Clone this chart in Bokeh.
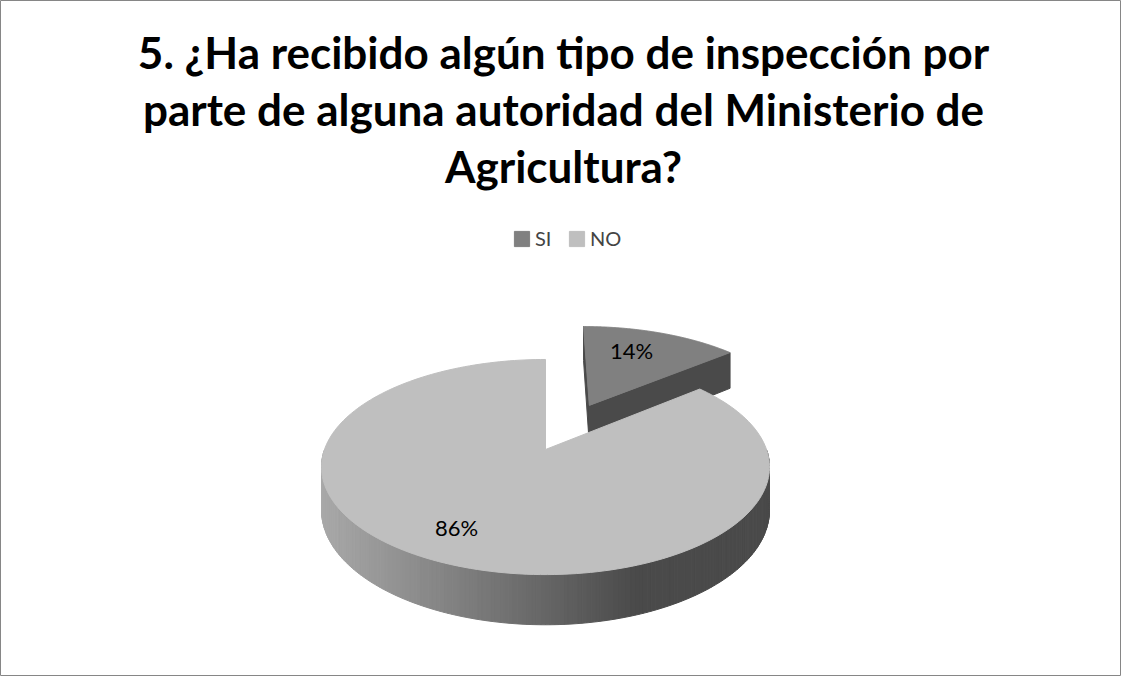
import numpy as np
from bokeh.plotting import figure
from bokeh.models import Range1d, Legend, LegendItem, ColumnDataSource
from bokeh.embed import file_html
from bokeh.resources import INLINE
from bokeh.core.properties import value

# ---------------- data ----------------
categories = ["SI", "NO"]
values = [14, 86]
pct_labels = ["14%", "86%"]
explode = [0.5, 0.0]
title_lines = [
    "5. ¿Ha recibido algún tipo de inspección por",
    "parte de alguna autoridad del Ministerio de",
    "Agricultura?",
]

# ---------------- style ----------------
top_colors = ["#808080", "#bfbfbf"]
cut_color = "#4a4a4a"
FONT = "Lato"

W, H_FIG = 1121, 676
p = figure(width=W, height=H_FIG, output_backend="svg", toolbar_location=None,
           x_range=Range1d(8, 8 + W), y_range=Range1d(8 + H_FIG, 8),
           x_axis_location=None, y_axis_location=None, min_border=0)
p.grid.visible = False
p.outline_line_color = "#868686"
p.outline_line_width = 1
p.background_fill_color = "white"
p.border_fill_color = "white"

# 3D perspective projection of the pie disc
CX, CY = 553.0, 457.0
B, A, P, DEPTH = 221.0, 104.7, 0.163, 42.0


def proj(u, v, z=0.0):
    u = np.asarray(u, float)
    v = np.asarray(v, float)
    s = 1.0 / (1.0 + P * v)
    return CX + B * u * s, CY - A * v * s + z * DEPTH * s


total = float(sum(values))
start = 90.0
slices = []
cum = 0.0
for cat, val, ex in zip(categories, values, explode):
    a0 = start - cum / total * 360.0
    a1 = a0 - val / total * 360.0
    cum += val
    mid = np.radians((a0 + a1) / 2.0)
    ou, ov = ex * np.cos(mid), ex * np.sin(mid)
    slices.append(dict(cat=cat, a0=a0, a1=a1, mid=mid, ou=ou, ov=ov))


def top_face(sl):
    t = np.radians(np.linspace(sl["a0"], sl["a1"], 200))
    u = np.concatenate([[sl["ou"]], sl["ou"] + np.cos(t)])
    v = np.concatenate([[sl["ov"]], sl["ov"] + np.sin(t)])
    return proj(u, v)


def cut_face(sl, ang):
    a = np.radians(ang)
    u = [sl["ou"], sl["ou"] + np.cos(a), sl["ou"] + np.cos(a), sl["ou"]]
    v = [sl["ov"], sl["ov"] + np.sin(a), sl["ov"] + np.sin(a), sl["ov"]]
    z = [0, 0, 1, 1]
    xs, ys = [], []
    for uu, vv, zz in zip(u, v, z):
        x, y = proj(uu, vv, zz)
        xs.append(float(x)); ys.append(float(y))
    return xs, ys


def side_color(x):
    g = 168 - (x - 333) * 0.30
    g = int(max(74, min(170, g)))
    return "#%02x%02x%02x" % (g, g, g)


def front_arc(sl):
    # portion of the slice rim lying in the front half (angles in [-180, 0] mod 360)
    lo_a, hi_a = min(sl["a0"], sl["a1"]), max(sl["a0"], sl["a1"])
    best = None
    for shift in (-360.0, 0.0, 360.0):
        lo = max(lo_a, -180.0 + shift)
        hi = min(hi_a, 0.0 + shift)
        if hi > lo and (best is None or hi - lo > best[1] - best[0]):
            best = (lo, hi)
    return best


top_renderers = {}

# back slice first (SI), then front slice (NO)
order = sorted(range(len(slices)), key=lambda i: -slices[i]["ov"])
for i in order:
    sl = slices[i]
    # visible cut faces (front-facing)
    for ang in (sl["a0"], sl["a1"]):
        a = np.radians(ang)
        nrm_sign = 1 if ang == sl["a1"] else -1
        nu, nv = np.cos(a - nrm_sign * np.pi / 2), np.sin(a - nrm_sign * np.pi / 2)
        cam_u, cam_v = 0.0, -1.0 / P
        mu = sl["ou"] + 0.5 * np.cos(a)
        mv = sl["ov"] + 0.5 * np.sin(a)
        if (cam_u - mu) * nu + (cam_v - mv) * nv > 0:
            xs, ys = cut_face(sl, ang)
            p.patch(xs, ys, fill_color=cut_color, line_color=cut_color, line_width=1)
    arc = front_arc(sl)
    if arc is not None:
        lo, hi = arc
        tt = np.radians(np.linspace(lo, hi, 181))
        sx, sy, sc = [], [], []
        for k in range(len(tt) - 1):
            t1, t2 = tt[k], tt[k + 1]
            us = [sl["ou"] + np.cos(t1), sl["ou"] + np.cos(t2), sl["ou"] + np.cos(t2), sl["ou"] + np.cos(t1)]
            vs = [sl["ov"] + np.sin(t1), sl["ov"] + np.sin(t2), sl["ov"] + np.sin(t2), sl["ov"] + np.sin(t1)]
            zs = [0, 0, 1, 1]
            qx, qy = [], []
            for uu, vv, zz in zip(us, vs, zs):
                x, y = proj(uu, vv, zz)
                qx.append(float(x)); qy.append(float(y))
            sx.append(qx); sy.append(qy)
            sc.append(side_color(sum(qx) / 4.0))
        src = ColumnDataSource(dict(xs=sx, ys=sy, c=sc))
        p.patches("xs", "ys", source=src, fill_color="c", line_color="c", line_width=1)
    tx, ty = top_face(sl)
    r = p.patch(list(tx), list(ty), fill_color=top_colors[i], line_color=top_colors[i], line_width=1)
    top_renderers[sl["cat"]] = r

# percentage labels
lab_x, lab_y = [], []
for sl in slices:
    lu = sl["ou"] + 0.73 * np.cos(sl["mid"])
    lv = sl["ov"] + 0.73 * np.sin(sl["mid"])
    x, y = proj(lu, lv)
    lab_x.append(float(x)); lab_y.append(float(y))
p.text(x=lab_x, y=lab_y, text=pct_labels, text_font=value(FONT), text_font_size="22px",
       text_align="center", text_baseline="middle", text_color="black", x_offset=-12)

# title
title_y = [59, 116, 173]
p.text(x=[571] * 3, y=title_y, text=title_lines, text_font=value(FONT),
       text_font_style="bold", text_font_size="44px", text_align="center",
       text_baseline="middle", text_color="black")

# legend
legend = Legend(items=[LegendItem(label=c, renderers=[top_renderers[c]]) for c in categories],
                orientation="horizontal", location=(512, 426), padding=0, margin=0,
                spacing=12, label_standoff=4, glyph_width=19, glyph_height=19,
                label_text_font=FONT, label_text_font_size="20px", label_height=20,
                border_line_color=None, background_fill_alpha=0)
p.add_layout(legend, "center")

open("out.html", "w").write(file_html(p, INLINE))
